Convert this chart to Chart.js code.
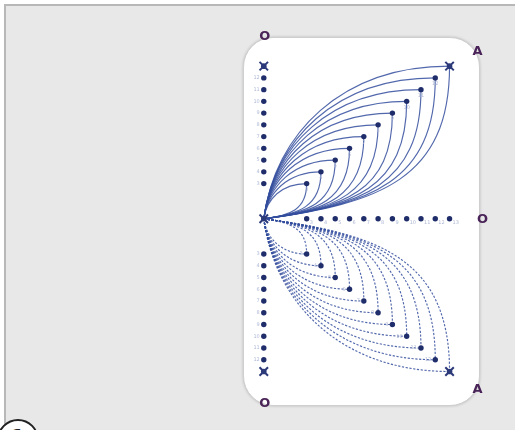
<!DOCTYPE html>
<html>
<head>
<meta charset="utf-8">
<script src="https://cdn.jsdelivr.net/npm/chart.js@4/dist/chart.umd.min.js"></script>
<style>
  html, body { margin: 0; padding: 0; width: 515px; height: 430px; overflow: hidden; background: #fff; }
  #frame { position: absolute; left: 4px; top: 4px; width: 520px; height: 440px; background: #e8e8e8;
           border-left: 2px solid #b8b8b8; border-top: 2px solid #b8b8b8; }
  #card { position: absolute; left: 243px; top: 37px; width: 235px; height: 367px; background: #fff;
          border: 1px solid #cfcfcf; border-radius: 30px; box-shadow: 0 0 3px rgba(0,0,0,0.2); }
  #badge { position: absolute; left: -3px; top: 419px; width: 38px; height: 38px; border: 2px solid #222;
           border-radius: 50%; background: #fff; font: bold 18px 'DejaVu Sans', sans-serif; color: #222;
           text-align: center; line-height: 30px; }
  #wrap { position: absolute; left: 0; top: 0; width: 515px; height: 430px; }
</style>
</head>
<body>
<div id="frame"></div>
<div id="card"></div>
<div id="badge">1</div>
<div id="wrap"><canvas id="lensChart" width="515" height="430"></canvas></div>
<script>
// Grid steps (origin = 0, corner A = 13)
const columnSteps = [3, 4, 5, 6, 7, 8, 9, 10, 11, 12];
const rowSteps = [3, 4, 5, 6, 7, 8, 9, 10, 11, 12, 13];
const lensSteps = [3, 4, 5, 6, 7, 8, 9, 10, 11, 12, 13];
const endStep = 13;
const cornerLabels = ['O', 'A', 'O', 'A', 'O'];

// Colors
const colors = {
  curve: 'rgba(52, 78, 158, 0.85)',
  dot: '#1f2d6b',
  cross: '#2c3a7a',
  tiny: '#b0b9d6',
  label: '#4a2458'
};

// Points built from the steps
const upperColumn = columnSteps.map(k => ({ x: 0, y: k }));
const upperDiagonal = columnSteps.map(k => ({ x: k, y: k }));
const baseRow = rowSteps.map(k => ({ x: k, y: 0 }));
const lowerColumn = columnSteps.map(k => ({ x: 0, y: -k }));
const lowerDiagonal = columnSteps.map(k => ({ x: k, y: -k }));
const endPoints = [
  { x: 0, y: 0 },
  { x: 0, y: endStep },
  { x: endStep, y: endStep },
  { x: 0, y: -endStep },
  { x: endStep, y: -endStep }
];

/**
 * Draw one lens (two bezier arcs) from origin to (k, ±k)
 */
function drawLens(ctx, p0, p1) {
  const dx = p1.x - p0.x;
  const dy = p1.y - p0.y;
  // arc leaving origin steeply, arriving horizontally
  ctx.beginPath();
  ctx.moveTo(p0.x, p0.y);
  ctx.bezierCurveTo(p0.x + 0.06 * dx, p0.y + 0.56 * dy, p1.x - 0.58 * dx, p1.y, p1.x, p1.y);
  ctx.stroke();
  // arc leaving origin flat, arriving vertically
  ctx.beginPath();
  ctx.moveTo(p0.x, p0.y);
  ctx.bezierCurveTo(p0.x + 0.62 * dx, p0.y + 0.1 * dy, p1.x, p1.y - 0.74 * dy, p1.x, p1.y);
  ctx.stroke();
}

const lensPlugin = {
  id: 'lenses',
  beforeDatasetsDraw(chart) {
    const { ctx, scales: { x, y } } = chart;
    const origin = { x: x.getPixelForValue(0), y: y.getPixelForValue(0) };
    ctx.save();
    ctx.strokeStyle = colors.curve;
    ctx.lineWidth = 1.15;
    lensSteps.forEach(k => {
      drawLens(ctx, origin, { x: x.getPixelForValue(k), y: y.getPixelForValue(k) });
    });
    ctx.setLineDash([2.2, 1.6]);
    lensSteps.forEach(k => {
      drawLens(ctx, origin, { x: x.getPixelForValue(k), y: y.getPixelForValue(-k) });
    });
    ctx.restore();
  },
  afterDatasetsDraw(chart) {
    const { ctx, scales: { x, y } } = chart;
    ctx.save();
    // tiny index marks next to the dots
    ctx.fillStyle = colors.tiny;
    ctx.font = '5px "DejaVu Sans"';
    ctx.textBaseline = 'middle';
    columnSteps.forEach(k => {
      ctx.textAlign = 'right';
      ctx.fillText(String(k), x.getPixelForValue(0) - 4, y.getPixelForValue(k));
      ctx.fillText(String(k), x.getPixelForValue(0) - 4, y.getPixelForValue(-k));
      ctx.fillText(String(k), x.getPixelForValue(k) - 4, y.getPixelForValue(-k));
      ctx.textAlign = 'center';
      ctx.fillText(String(k), x.getPixelForValue(k), y.getPixelForValue(k) + 6);
    });
    ctx.textAlign = 'left';
    rowSteps.forEach(k => {
      ctx.fillText(String(k), x.getPixelForValue(k) + 3, y.getPixelForValue(0) + 4);
    });

    // corner labels
    ctx.fillStyle = colors.label;
    ctx.font = 'bold 13px "DejaVu Sans"';
    ctx.textAlign = 'center';
    const spots = [
      [x.getPixelForValue(0) + 1, y.getPixelForValue(endStep) - 30],
      [x.getPixelForValue(endStep) + 28, y.getPixelForValue(endStep) - 15],
      [x.getPixelForValue(endStep) + 33, y.getPixelForValue(0) + 1],
      [x.getPixelForValue(endStep) + 28, y.getPixelForValue(-endStep) + 18],
      [x.getPixelForValue(0) + 1, y.getPixelForValue(-endStep) + 32]
    ];
    cornerLabels.forEach((label, i) => ctx.fillText(label, spots[i][0], spots[i][1]));
    ctx.restore();
  }
};

const dotStyle = {
  backgroundColor: colors.dot,
  borderColor: colors.dot,
  pointRadius: 2.7,
  borderWidth: 0
};

new Chart(document.getElementById('lensChart'), {
  type: 'scatter',
  data: {
    datasets: [
      { label: 'upper column', data: upperColumn, ...dotStyle },
      { label: 'upper diagonal', data: upperDiagonal, ...dotStyle },
      { label: 'base row', data: baseRow, ...dotStyle },
      { label: 'lower column', data: lowerColumn, ...dotStyle },
      { label: 'lower diagonal', data: lowerDiagonal, ...dotStyle },
      {
        label: 'ends',
        data: endPoints,
        pointStyle: 'crossRot',
        pointRadius: 6,
        borderWidth: 2,
        borderColor: colors.cross
      },
      {
        label: 'end centers',
        data: endPoints,
        pointRadius: 2.8,
        backgroundColor: colors.cross,
        borderWidth: 0
      }
    ]
  },
  options: {
    responsive: false,
    animation: false,
    layout: { padding: 0 },
    plugins: {
      legend: { display: false },
      tooltip: { enabled: false }
    },
    scales: {
      x: { type: 'linear', display: false, min: -17.9, max: 17.02 },
      y: { type: 'linear', display: false, min: -17.3, max: 17.95 }
    }
  },
  plugins: [lensPlugin]
});
</script>
</body>
</html>
